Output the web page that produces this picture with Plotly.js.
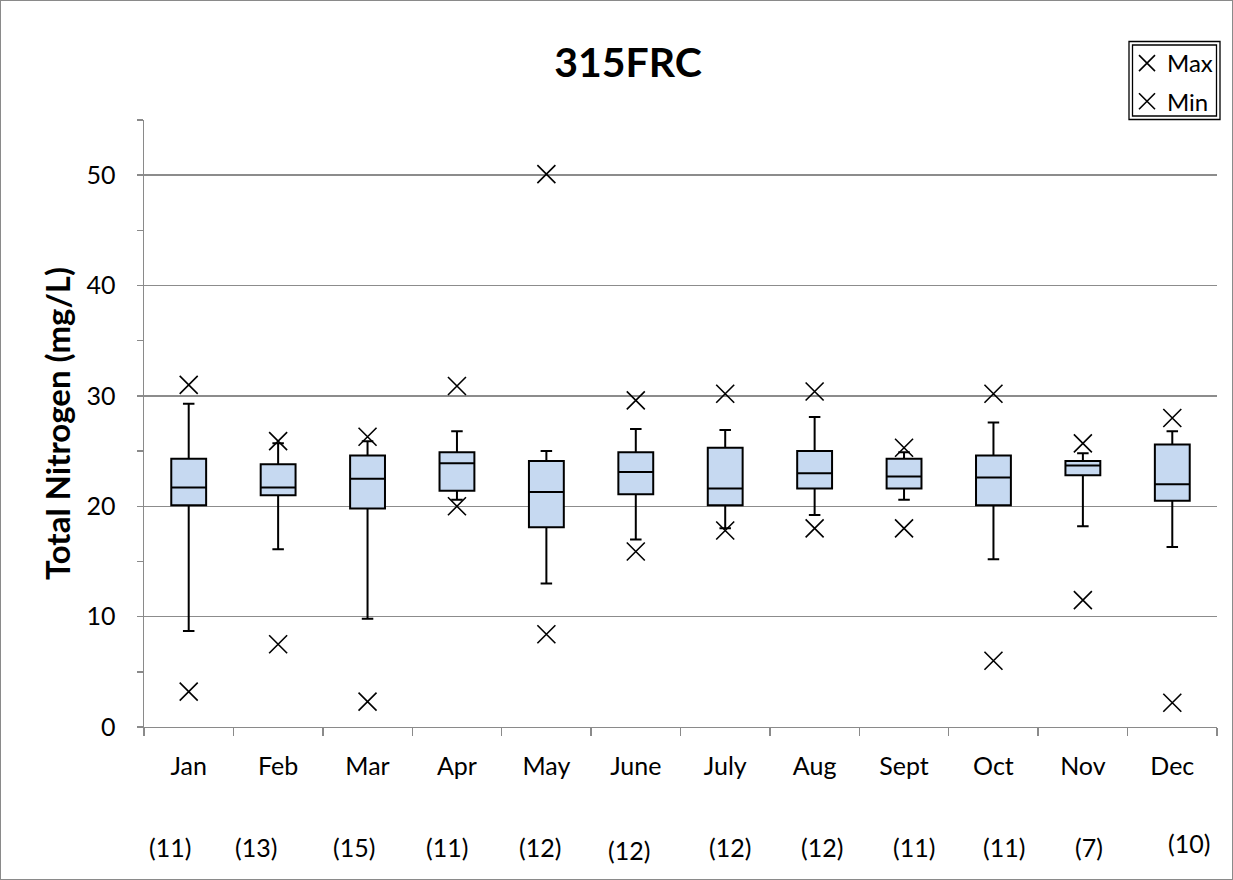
<!DOCTYPE html>
<html>
<head>
<meta charset="utf-8">
<script src="https://cdn.plot.ly/plotly-3.0.1.min.js"></script>
<style>
  body { margin: 0; background: #fff; }
  #wrap { position: relative; width: 1233px; height: 880px; }
  #chart { width: 1233px; height: 880px; }
  #frame { position: absolute; left: 0; top: 0; width: 1231px; height: 878px; border: 1px solid #8a8a8a; pointer-events: none; }
</style>
</head>
<body>
<div id="wrap"><div id="chart"></div><div id="frame"></div></div>
<script>
const months = ["Jan","Feb","Mar","Apr","May","June","July","Aug","Sept","Oct","Nov","Dec"];
const counts = ["(11)","(13)","(15)","(11)","(12)","(12)","(12)","(12)","(11)","(11)","(7)","(10)"];
const whiskerLow = [8.7, 16.1, 9.8, 20.6, 13.0, 17.0, 18.0, 19.2, 20.6, 15.2, 18.2, 16.3];
const q1 =        [20.1, 21.0, 19.8, 21.4, 18.1, 21.1, 20.1, 21.6, 21.6, 20.1, 22.8, 20.5];
const median =    [21.7, 21.7, 22.5, 23.9, 21.3, 23.1, 21.6, 23.0, 22.7, 22.6, 23.7, 22.0];
const q3 =        [24.3, 23.8, 24.6, 24.9, 24.1, 24.9, 25.3, 25.0, 24.3, 24.6, 24.1, 25.6];
const whiskerHigh=[29.3, 25.7, 25.9, 26.8, 25.0, 27.0, 26.9, 28.1, 24.9, 27.6, 24.8, 26.8];
const maxVals =   [31.0, 25.9, 26.3, 30.9, 50.1, 29.6, 30.2, 30.4, 25.3, 30.2, 25.7, 28.0];
const minVals =   [3.2, 7.5, 2.3, 20.0, 8.4, 15.9, 17.8, 18.0, 18.0, 6.0, 11.5, 2.2];

// pixel offsets for the count annotations (layout styling)
const countShift = [-19, -22, -14, -10, -6, -7, 5, 7, 10, 11, 6, 17];
const countYShift = [0, 0, 0, 0, 0, -3, 0, 0, 0, 0, 0, 4];

const FONT = "Lato, 'Open Sans', sans-serif";

const boxTrace = {
  type: "box",
  x: months,
  q1: q1,
  median: median,
  q3: q3,
  lowerfence: whiskerLow,
  upperfence: whiskerHigh,
  boxpoints: false,
  fillcolor: "#C6D9F1",
  line: { color: "#000", width: 2 },
  width: 0.39,
  whiskerwidth: 0.33,
  showlegend: false,
  hoverinfo: "skip"
};

const markerStyle = { symbol: "x-thin-open", size: 18, color: "#000", line: { color: "#000", width: 1.6 } };

const maxTrace = {
  type: "scatter", mode: "markers", name: "Max",
  x: months, y: maxVals, marker: markerStyle,
  legendgroup: "a", hoverinfo: "skip"
};
const minTrace = {
  type: "scatter", mode: "markers", name: "Min",
  x: months, y: minVals, marker: markerStyle,
  legendgroup: "b", hoverinfo: "skip"
};

const annotations = counts.map((c, i) => ({
  text: c, x: months[i], xref: "x", y: (727 - 847) / 607, yref: "paper",
  xanchor: "center", yanchor: "middle", showarrow: false,
  xshift: countShift[i], yshift: countYShift[i],
  font: { family: FONT, size: 25, color: "#000" }
}));

const layout = {
  width: 1233, height: 880,
  margin: { l: 144, r: 16, t: 120, b: 153 },
  paper_bgcolor: "#fff", plot_bgcolor: "#fff",
  hovermode: false,
  title: {
    text: "<b>315FRC</b>",
    x: 628 / 1233, xref: "container", xanchor: "center",
    y: 1 - 63 / 880, yref: "container", yanchor: "middle",
    font: { family: FONT, size: 41, color: "#000" }
  },
  xaxis: {
    type: "category",
    categoryorder: "array", categoryarray: months,
    range: [-0.5, 11.5],
    showline: true, linecolor: "#8a8a8a", linewidth: 1.4,
    ticks: "outside", tickson: "boundaries", ticklen: 8, tickcolor: "#8a8a8a", tickwidth: 1.4,
    showgrid: false, zeroline: false,
    tickfont: { family: FONT, size: 25, color: "#000" },
    ticklabelstandoff: 17
  },
  yaxis: {
    range: [0, 55],
    dtick: 10, tick0: 0,
    showline: true, linecolor: "#8a8a8a", linewidth: 1.4,
    ticks: "outside", ticklen: 6, tickcolor: "#8a8a8a", tickwidth: 1.4,
    minor: { dtick: 5, ticks: "outside", ticklen: 6, tickcolor: "#8a8a8a", tickwidth: 1.4, showgrid: false },
    showgrid: true, gridcolor: "#8c8c8c", gridwidth: 1.4,
    zeroline: false,
    tickfont: { family: FONT, size: 25, color: "#000" },
    ticklabelstandoff: 16,
    title: { text: "<b>Total Nitrogen (mg/L)</b>", font: { family: FONT, size: 33, color: "#000" }, standoff: 6 }
  },
  showlegend: true,
  legend: {
    x: (1127 - 144) / 1073, xanchor: "left",
    y: (727 - 41) / 607, yanchor: "top",
    bgcolor: "rgba(0,0,0,0)", borderwidth: 0,
    font: { family: FONT, size: 24, color: "#000" },
    traceorder: "grouped", tracegroupgap: 4,
    itemwidth: 30
  },
  shapes: [
    { type: "rect", xref: "paper", yref: "paper",
      x0: (1129 - 144) / 1073, x1: (1220 - 144) / 1073,
      y0: (727 - 119.5) / 607, y1: (727 - 41.5) / 607,
      line: { color: "#000", width: 1.3 }, fillcolor: "rgba(0,0,0,0)" },
    { type: "rect", xref: "paper", yref: "paper",
      x0: (1132.5 - 144) / 1073, x1: (1216.5 - 144) / 1073,
      y0: (727 - 116) / 607, y1: (727 - 45) / 607,
      line: { color: "#000", width: 1.3 }, fillcolor: "rgba(0,0,0,0)" }
  ],
  annotations: annotations
};

Plotly.newPlot("chart", [boxTrace, maxTrace, minTrace], layout, { displayModeBar: false, staticPlot: true });
</script>
</body>
</html>
